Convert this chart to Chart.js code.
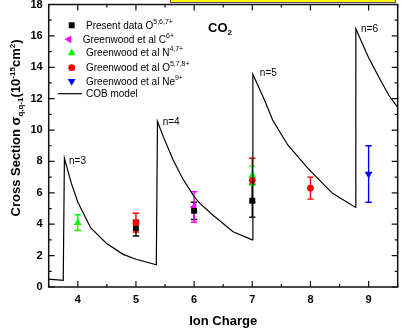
<!DOCTYPE html>
<html>
<head>
<meta charset="utf-8">
<script src="https://cdn.jsdelivr.net/npm/chart.js@4.4.1/dist/chart.umd.min.js"></script>
<style>
  body { margin: 0; background: #fff; }
  #wrap { position: relative; width: 403px; height: 329px; overflow: hidden; }
  #note { position: absolute; left: 170px; top: -9px; width: 224px; height: 10px; background: #ffff00; border: 1px solid #555; }
</style>
</head>
<body>
<div id="wrap">
  <canvas id="chart" width="403" height="329"></canvas>
  <div id="note"></div>
</div>
<script>
// CO2 capture cross sections vs ion charge

var FONT = '"Liberation Sans", Arial, sans-serif';

var xTickVals = [4, 5, 6, 7, 8, 9];
var yTickVals = [0, 2, 4, 6, 8, 10, 12, 14, 16, 18];

// COB model curve
var cobX = [3.5, 3.75, 3.77, 3.89, 4.0, 4.22, 4.49, 4.78, 5.0, 5.35,
            5.37, 5.47, 5.64, 5.8, 6.0, 6.1, 6.32, 6.67, 7.0, 7.01,
            7.21, 7.35, 7.61, 7.98, 8.38, 8.77, 8.78, 9.0, 9.2, 9.35, 9.5];
var cobY = [0.5, 0.42, 8.2, 6.6, 5.42, 3.78, 2.79, 2.08, 1.77, 1.42,
            10.55, 9.58, 8.09, 6.93, 5.76, 5.33, 4.59, 3.52, 3.0, 13.55,
            11.92, 10.64, 9.05, 7.46, 5.97, 5.08, 16.45, 14.6, 13.2, 12.2, 11.45];

// measured points
var presentX = [5, 6, 7];
var presentY = [3.75, 4.85, 5.5];
var presentErr = [0.5, 0.55, 1.05];

var cX = [6];
var cY = [5.1];
var cErr = [0.97];

var nX = [4, 7];
var nY = [4.1, 7.1];
var nErr = [0.5, 0.6];

var oX = [5, 7, 8];
var oY = [4.1, 6.8, 6.3];
var oErr = [0.6, 1.4, 0.7];

var neX = [9];
var neY = [7.2];
var neErr = [1.8];

function pts(xs, ys) {
    return xs.map(function (x, i) { return { x: x, y: ys[i] }; });
}

function scatterSet(label, sup, xs, ys, err, color, style, rot, r) {
    return {
        type: 'scatter',
        label: label,
        sup: sup,
        data: pts(xs, ys),
        err: err,
        backgroundColor: color,
        borderColor: color,
        pointStyle: style,
        rotation: rot,
        pointRadius: r,
        pointBorderWidth: 0,
    };
}

var datasets = [
    {
        type: 'line',
        label: 'COB model',
        data: pts(cobX, cobY),
        borderColor: '#000',
        borderWidth: 1.2,
        pointRadius: 0,
        tension: 0,
        fill: false,
    },
    scatterSet('Greenwood et al O', '5,7,8+', oX, oY, oErr, '#ff0000', 'circle', 0, 3.4),
    scatterSet('Present data O', '5,6,7+', presentX, presentY, presentErr, '#000000', 'rect', 0, 4.2),
    scatterSet('Greenwood et al N', '4,7+', nX, nY, nErr, '#00ff00', 'triangle', 0, 4.5),
    scatterSet('Greenwood et al C', '6+', cX, cY, cErr, '#ff00ff', 'triangle', 270, 4.5),
    scatterSet('Greenwood et al Ne', '9+', neX, neY, neErr, '#0000ff', 'triangle', 180, 4.5),
];

// text with sub/superscripts, drawn piece by piece
function rich(ctx, parts, x, y) {
    var cx = x;
    parts.forEach(function (p) {
        ctx.font = (p.b ? 'bold ' : '') + p.s + 'px ' + FONT;
        ctx.fillText(p.t, cx, y + (p.dy || 0));
        cx += ctx.measureText(p.t).width;
    });
    return cx - x;
}
function richWidth(ctx, parts) {
    var w = 0;
    parts.forEach(function (p) {
        ctx.font = (p.b ? 'bold ' : '') + p.s + 'px ' + FONT;
        w += ctx.measureText(p.t).width;
    });
    return w;
}

var errorBars = {
    id: 'errorBars',
    beforeDatasetsDraw: function (chart) {
        var ctx = chart.ctx, x = chart.scales.x, y = chart.scales.y;
        ctx.save();
        ctx.lineWidth = 1.4;
        chart.data.datasets.forEach(function (ds) {
            if (!ds.err) return;
            ctx.strokeStyle = ds.borderColor;
            ds.data.forEach(function (p, i) {
                var px = x.getPixelForValue(p.x);
                var top = y.getPixelForValue(p.y + ds.err[i]);
                var bot = y.getPixelForValue(p.y - ds.err[i]);
                ctx.beginPath();
                ctx.moveTo(px, top); ctx.lineTo(px, bot);
                ctx.moveTo(px - 3.2, top); ctx.lineTo(px + 3.2, top);
                ctx.moveTo(px - 3.2, bot); ctx.lineTo(px + 3.2, bot);
                ctx.stroke();
            });
        });
        ctx.restore();
    },
};

var frameTicks = {
    id: 'frameTicks',
    afterDatasetsDraw: function (chart) {
        var ctx = chart.ctx, a = chart.chartArea, x = chart.scales.x, y = chart.scales.y;
        ctx.save();
        ctx.strokeStyle = '#111';
        ctx.lineWidth = 1.5;
        ctx.strokeRect(a.left, a.top, a.right - a.left, a.bottom - a.top);
        ctx.lineWidth = 1.2;
        ctx.beginPath();
        for (var v = 3.5; v <= 9.5; v += 0.5) {
            var px = x.getPixelForValue(v);
            var len = v % 1 === 0 ? 6 : 3;
            ctx.moveTo(px, a.bottom); ctx.lineTo(px, a.bottom - len);
            ctx.moveTo(px, a.top); ctx.lineTo(px, a.top + len);
        }
        for (var w = 0; w <= 18; w += 1) {
            var py = y.getPixelForValue(w);
            var l2 = w % 2 === 0 ? 6 : 3;
            ctx.moveTo(a.left, py); ctx.lineTo(a.left + l2, py);
            ctx.moveTo(a.right, py); ctx.lineTo(a.right - l2, py);
        }
        ctx.stroke();
        ctx.restore();
    },
};

var labels = {
    id: 'labels',
    afterDraw: function (chart) {
        var ctx = chart.ctx, a = chart.chartArea, x = chart.scales.x, y = chart.scales.y;
        ctx.save();
        ctx.fillStyle = '#000';
        ctx.textBaseline = 'alphabetic';
        ctx.textAlign = 'left';

        // x title
        ctx.font = 'bold 13px ' + FONT;
        ctx.textAlign = 'center';
        ctx.fillText('Ion Charge', (a.left + a.right) / 2, 325);
        ctx.textAlign = 'left';

        // y title
        var yt = [
            { t: 'Cross Section ', s: 13, b: true },
            { t: 'σ', s: 13, b: true },
            { t: 'q,q-1', s: 8, b: true, dy: 3 },
            { t: '(10', s: 13, b: true },
            { t: '-15', s: 8, b: true, dy: -5 },
            { t: 'cm', s: 13, b: true },
            { t: '2', s: 8, b: true, dy: -5 },
            { t: ')', s: 13, b: true },
        ];
        ctx.save();
        ctx.translate(19.5, 128);
        ctx.rotate(-Math.PI / 2);
        rich(ctx, yt, -richWidth(ctx, yt) / 2, 0);
        ctx.restore();

        // CO2
        rich(ctx, [{ t: 'CO', s: 13, b: true }, { t: '2', s: 8, b: true, dy: 3 }], 208, 32);

        // shell labels
        ctx.font = '10px ' + FONT;
        ctx.textBaseline = 'middle';
        ctx.fillText('n=3', x.getPixelForValue(3.85), y.getPixelForValue(8.0));
        ctx.fillText('n=4', x.getPixelForValue(5.46), y.getPixelForValue(10.5));
        ctx.fillText('n=5', x.getPixelForValue(7.13), y.getPixelForValue(13.6));
        ctx.fillText('n=6', x.getPixelForValue(8.87), y.getPixelForValue(16.4));

        // legend
        var rows = [
            { ds: 2, mx: 71.7, tx: 86, ty: 25.3 },
            { ds: 4, mx: 69, tx: 82.7, ty: 39.3 },
            { ds: 3, mx: 71.7, tx: 86, ty: 53 },
            { ds: 1, mx: 71.7, tx: 86, ty: 67.7 },
            { ds: 5, mx: 71.7, tx: 86, ty: 81.3 },
            { ds: 0, mx: 0, tx: 86, ty: 93.7 },
        ];
        ctx.textBaseline = 'middle';
        rows.forEach(function (r) {
            var ds = chart.data.datasets[r.ds];
            if (ds.type === 'line') {
                ctx.strokeStyle = '#000';
                ctx.lineWidth = 1.2;
                ctx.beginPath();
                ctx.moveTo(58, r.ty); ctx.lineTo(82, r.ty);
                ctx.stroke();
            } else {
                ctx.fillStyle = ds.backgroundColor;
                Chart.helpers.drawPoint(ctx, {
                    pointStyle: ds.pointStyle, rotation: ds.rotation,
                    radius: ds.pointRadius, borderWidth: 0,
                }, r.mx, r.ty);
            }
            ctx.fillStyle = '#000';
            var parts = [{ t: ds.label, s: 10 }];
            if (ds.sup) parts.push({ t: ds.sup, s: 7, dy: -4 });
            rich(ctx, parts, r.tx, r.ty + 0.5);
        });
        ctx.restore();
    },
};

var config = {
    type: 'scatter',
    data: { datasets: datasets },
    options: {
        responsive: false,
        animation: false,
        layout: { padding: { left: 0, top: 4.5, right: 5.3, bottom: 0 } },
        plugins: {
            legend: { display: false },
            tooltip: { enabled: false },
        },
        scales: {
            x: {
                type: 'linear',
                min: 3.5,
                max: 9.5,
                grid: { display: false, drawTicks: false },
                border: { display: false },
                afterBuildTicks: function (s) { s.ticks = xTickVals.map(function (v) { return { value: v }; }); },
                afterFit: function (s) { s.height = 42; s.paddingLeft = 0; s.paddingRight = 0; },
                ticks: {
                    autoSkip: false,
                    maxRotation: 0,
                    padding: 6,
                    color: '#000',
                    font: { family: FONT, size: 11, weight: 'bold' },
                },
            },
            y: {
                type: 'linear',
                min: 0,
                max: 18,
                grid: { display: false, drawTicks: false },
                border: { display: false },
                afterBuildTicks: function (s) { s.ticks = yTickVals.map(function (v) { return { value: v }; }); },
                afterFit: function (s) { s.width = 48.7; s.paddingTop = 0; s.paddingBottom = 0; },
                ticks: {
                    autoSkip: false,
                    padding: 6,
                    color: '#000',
                    font: { family: FONT, size: 11, weight: 'bold' },
                },
            },
        },
    },
    plugins: [errorBars, frameTicks, labels],
};

var myChart = new Chart(document.getElementById('chart'), config);
</script>
</body>
</html>
